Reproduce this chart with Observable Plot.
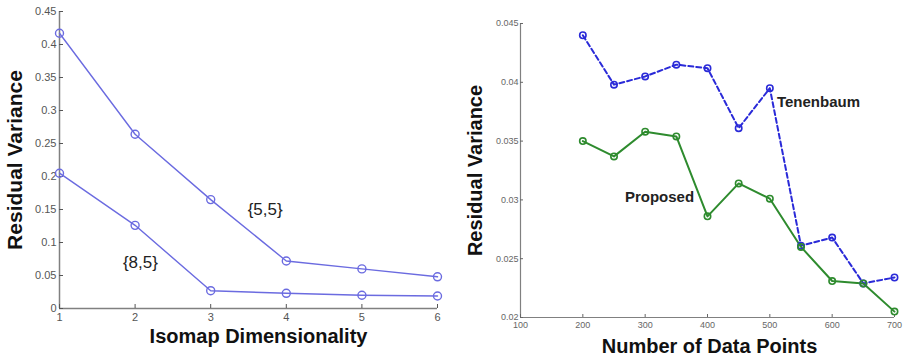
<!DOCTYPE html>
<html>
<head>
<meta charset="utf-8">
<script src="https://cdn.jsdelivr.net/npm/d3@7"></script>
<script src="https://cdn.jsdelivr.net/npm/@observablehq/plot@0.6"></script>
<style>
  html, body { margin: 0; padding: 0; background: #fff; }
  #wrap { display: flex; width: 904px; height: 360px; }
  #wrap svg { display: block; }
</style>
</head>
<body>
<div id="wrap"></div>
<script>
// ---------- Left chart data ----------
const dims = [1, 2, 3, 4, 5, 6];
const series55 = [0.417, 0.264, 0.165, 0.072, 0.060, 0.048];
const series85 = [0.205, 0.126, 0.027, 0.023, 0.020, 0.019];
const leftYTicks = [0, 0.05, 0.1, 0.15, 0.2, 0.25, 0.3, 0.35, 0.4, 0.45];
const leftLabels = [
  {x: 3.72, y: 0.150, text: "{5,5}"},
  {x: 2.07, y: 0.070, text: "{8,5}"}
];

// ---------- Right chart data ----------
const points = [200, 250, 300, 350, 400, 450, 500, 550, 600, 650, 700];
const tenenbaum = [0.0440, 0.0398, 0.0405, 0.0415, 0.0412, 0.0361, 0.0395, 0.0261, 0.0268, 0.0229, 0.0234];
const proposed = [0.0350, 0.0337, 0.0358, 0.0354, 0.0286, 0.0314, 0.0301, 0.0260, 0.0231, 0.0229, 0.0205];
const rightXTicks = [100, 200, 300, 400, 500, 600, 700];
const rightYTicks = [0.02, 0.025, 0.03, 0.035, 0.04, 0.045];
const rightLabels = [
  {x: 578, y: 0.0383, text: "Tenenbaum"},
  {x: 323, y: 0.0302, text: "Proposed"}
];

const FONT = "Liberation Sans, Arial, Helvetica, sans-serif";
const AXIS = "#808080";
const LEFT_BLUE = "#6b6be0";
const BLUE = "#2a2ad8";
const GREEN = "#2e8b2e";

const d55 = dims.map((d, i) => ({x: d, y: series55[i]}));
const d85 = dims.map((d, i) => ({x: d, y: series85[i]}));
const dT = points.map((d, i) => ({x: d, y: tenenbaum[i]}));
const dP = points.map((d, i) => ({x: d, y: proposed[i]}));

const left = Plot.plot({
  width: 452, height: 360,
  marginLeft: 59, marginRight: 15, marginTop: 11, marginBottom: 52,
  style: {fontFamily: FONT, background: "white"},
  x: {domain: [1, 6]},
  y: {domain: [0, 0.45]},
  marks: [
    Plot.ruleX([1], {stroke: AXIS, strokeWidth: 1.5}),
    Plot.ruleY([0], {stroke: AXIS, strokeWidth: 1.5}),
    Plot.axisY({ticks: leftYTicks, tickFormat: d => String(+d.toFixed(2)), tickSize: -4, tickPadding: 7, fontSize: 11, color: "#555", label: null}),
    Plot.axisX({ticks: dims, tickFormat: d => String(d), tickSize: -4, tickPadding: 9, fontSize: 11, color: "#555", label: null}),
    Plot.line(d55, {x: "x", y: "y", stroke: LEFT_BLUE, strokeWidth: 1.4}),
    Plot.line(d85, {x: "x", y: "y", stroke: LEFT_BLUE, strokeWidth: 1.4}),
    Plot.dot(d55, {x: "x", y: "y", r: 4, stroke: LEFT_BLUE, strokeWidth: 1.4, fill: "none"}),
    Plot.dot(d85, {x: "x", y: "y", r: 4, stroke: LEFT_BLUE, strokeWidth: 1.4, fill: "none"}),
    Plot.text(leftLabels, {x: "x", y: "y", text: "text", fontSize: 17, fill: "#222"}),
    Plot.text(["Residual Variance"], {frameAnchor: "left", textAnchor: "middle", dx: -44, rotate: -90, text: d => d, fontSize: 21, fontWeight: "bold", fill: "#111"}),
    Plot.text(["Isomap Dimensionality"], {frameAnchor: "bottom", textAnchor: "middle", dx: 10, dy: 34, text: d => d, fontSize: 20, fontWeight: "bold", fill: "#111"})
  ]
});

const right = Plot.plot({
  width: 452, height: 360,
  marginLeft: 68, marginRight: 10, marginTop: 23, marginBottom: 43,
  style: {fontFamily: FONT, background: "white"},
  x: {domain: [100, 700]},
  y: {domain: [0.02, 0.045]},
  marks: [
    Plot.ruleX([100], {stroke: AXIS, strokeWidth: 1.2}),
    Plot.ruleY([0.02], {stroke: AXIS, strokeWidth: 1.2}),
    Plot.axisY({ticks: rightYTicks, tickFormat: d => String(+d.toFixed(3)), tickSize: -3, tickPadding: 5, fontSize: 9, color: "#666", label: null}),
    Plot.axisX({ticks: rightXTicks, tickFormat: d => String(d), tickSize: -3, tickPadding: 7, fontSize: 9, color: "#666", label: null}),
    Plot.line(dT, {x: "x", y: "y", stroke: BLUE, strokeWidth: 2, strokeDasharray: "5,3"}),
    Plot.line(dP, {x: "x", y: "y", stroke: GREEN, strokeWidth: 2}),
    Plot.dot(dT, {x: "x", y: "y", r: 3.2, stroke: BLUE, strokeWidth: 1.6, fill: "none"}),
    Plot.dot(dP, {x: "x", y: "y", r: 3.2, stroke: GREEN, strokeWidth: 1.6, fill: "none"}),
    Plot.text(rightLabels, {x: "x", y: "y", text: "text", fontSize: 15, fontWeight: "bold", fill: "#222"}),
    Plot.text(["Residual Variance"], {frameAnchor: "left", textAnchor: "middle", dx: -45, rotate: -90, text: d => d, fontSize: 20, fontWeight: "bold", fill: "#111"}),
    Plot.text(["Number of Data Points"], {frameAnchor: "bottom", textAnchor: "middle", dx: 2, dy: 35, text: d => d, fontSize: 20, fontWeight: "bold", fill: "#111"})
  ]
});

document.getElementById("wrap").append(left, right);
</script>
</body>
</html>
